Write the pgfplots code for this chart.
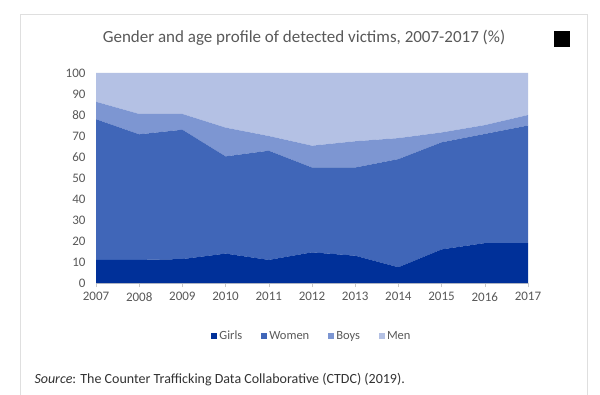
\documentclass[border=0pt]{standalone}
\usepackage{pgfplots}
\pgfplotsset{compat=1.18}
\usepackage{fontspec}
\setmainfont{Carlito}
\definecolor{cgirls}{RGB}{0,48,153}
\definecolor{cwomen}{RGB}{64,102,184}
\definecolor{cboys}{RGB}{125,150,210}
\definecolor{cmen}{RGB}{180,193,228}
\definecolor{txt}{RGB}{89,89,89}
\definecolor{axl}{RGB}{200,200,200}
\begin{document}
\begin{tikzpicture}
\begin{scope}[x=1pt,y=1pt]
\path[use as bounding box] (0,0) rectangle (600,394);
\fill[white] (0,0) rectangle (600,394);
\draw[gray!25,line width=0.8pt] (20,-2) -- (20,380) -- (587,380) -- (587,-2);
\node[text=txt,font=\fontsize{17}{20}\selectfont] at (304,356) {Gender and age profile of detected victims, 2007-2017 (\%)};
\fill[black] (554,347) rectangle (570,363);
\node[anchor=west,text=black!80,font=\fontsize{14}{16}\selectfont] at (31,14) {\textit{Source}: The Counter Trafficking Data Collaborative (CTDC) (2019).};
\end{scope}
\begin{axis}[
  at={(96pt,111pt)}, anchor=south west,
  scale only axis, width=432pt, height=210pt,
  xmin=2007, xmax=2017, ymin=0, ymax=100,
  stack plots=y,
  axis y line*=left, axis x line*=bottom,
  y axis line style={draw=none},
  x axis line style={draw=axl},
  xtick={2007,...,2017}, ytick={0,10,...,100},
  x tick label style={/pgf/number format/1000 sep={}},
  /pgf/number format/assume math mode=true,
  tick label style={text=txt,font=\fontsize{13}{15}\selectfont},
  ytick style={draw=none},
  xtick style={draw=axl},
  tick align=outside, major tick length=4pt,
  yticklabel style={xshift=-3pt},
  xticklabel style={yshift=-2pt},
  legend columns=4,
  legend style={at={(0.5,-0.252)}, anchor=center, draw=none, fill=none,
    font=\fontsize{12.5}{14}\selectfont, text=txt,
    /tikz/every even column/.append style={column sep=17pt}},
  legend image code/.code={\fill[#1,draw=none] (0pt,-3pt) rectangle (6pt,3pt);},
]
\addplot[fill=cgirls,draw=none] table {
x y
2007 11
2008 11
2009 11.4
2010 14
2011 11
2012 14.6
2013 13
2014 7.5
2015 16
2016 19
2017 19
} \closedcycle;
\addplot[fill=cwomen,draw=none] table {
x y
2007 67
2008 59.8
2009 61.6
2010 46.3
2011 52
2012 40.4
2013 42
2014 51.5
2015 51
2016 52
2017 56
} \closedcycle;
\addplot[fill=cboys,draw=none] table {
x y
2007 8.3
2008 9.7
2009 7.5
2010 13.7
2011 7
2012 10.4
2013 12.5
2014 10
2015 4.7
2016 4.2
2017 5
} \closedcycle;
\addplot[fill=cmen,draw=none] table {
x y
2007 13.7
2008 19.5
2009 19.5
2010 26
2011 30
2012 34.6
2013 32.5
2014 31
2015 28.3
2016 24.8
2017 20
} \closedcycle;
\legend{Girls,Women,Boys,Men}
\end{axis}
\end{tikzpicture}
\end{document}
